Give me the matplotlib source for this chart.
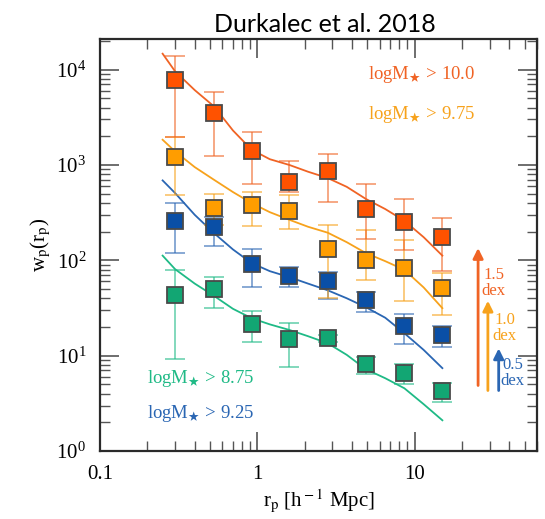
import numpy as np
import matplotlib
matplotlib.use("Agg")
import matplotlib.pyplot as plt

plt.rcParams['font.family'] = ['Liberation Serif', 'DejaVu Serif']
plt.rcParams['mathtext.fontset'] = 'stix'

# separations of the measured points [h^-1 Mpc]
rp = [0.30, 0.53, 0.92, 1.6, 2.8, 4.9, 8.6, 15.0]

wp_100 = [7850, 3510, 1410, 656, 855, 345, 252, 175]
hi_100 = [14000, 5780, 2220, 1090, 1300, 630, 439, 277]
lo_100 = [1950, 1230, 630, 525, 414, 168, 129, 78]

wp_975 = [1210, 356, 380, 333, 130, 102, 84, 51]
hi_975 = [1950, 500, 527, 490, 232, 209, 164, 73]
lo_975 = [479, 235, 230, 215, 40, 62, 37, 27]

wp_925 = [260, 223, 91, 69, 61, 38, 20.5, 16.5]
hi_925 = [399, 285, 131, 86, 76, 47, 27.4, 20.5]
lo_925 = [119, 143, 52, 52, 39, 29, 13.3, 12.4]

wp_875 = [43.7, 49.9, 21.5, 14.9, 15.2, 8.2, 6.6, 4.26]
hi_875 = [79.5, 67.6, 29.3, 21.9, 16.5, 9.6, 8.2, 5.13]
lo_875 = [9.25, 31.5, 14.0, 7.6, 14.0, 6.4, 5.05, 3.3]

# model curves
r_mod = [0.25, 0.30, 0.40, 0.53, 0.70, 0.92, 1.2, 1.6, 2.1, 2.8, 3.7, 4.9, 6.5, 8.6, 11.4, 15.0]
mod_100 = [14700, 9600, 6100, 4120, 2300, 1445, 1150, 1000, 850, 730, 590, 440, 345, 260, 175, 112]
mod_975 = [1840, 1387, 950, 700, 520, 398, 320, 266, 225, 195, 155, 119, 98, 79.5, 52, 31.5]
mod_925 = [689, 508, 300, 193, 130, 93.5, 77, 66.6, 57, 48.5, 40, 32.2, 25, 17.2, 11.5, 7.4]
mod_875 = [112, 80.8, 57, 42.4, 31, 24.7, 21.3, 18.6, 16, 13.5, 10.2, 7.2, 5.8, 4.55, 3.1, 2.1]

series = [
    (wp_875, hi_875, lo_875, mod_875, '#12a673', '#1fba86'),
    (wp_925, hi_925, lo_925, mod_925, '#0a4fa6', '#2a66b3'),
    (wp_975, hi_975, lo_975, mod_975, '#ff9d00', '#f7a21c'),
    (wp_100, hi_100, lo_100, mod_100, '#ff5200', '#f06324'),
]

fig = plt.figure(figsize=(5.45, 5.19), dpi=100)
ax = fig.add_axes([0.1835, 0.131, 0.802, 0.794])

for wp, hi, lo, mod, fc, lc in series:
    wp = np.array(wp)
    yerr = [wp - np.array(lo), np.array(hi) - wp]
    ax.plot(r_mod, mod, color=lc, lw=1.3, zorder=2)
    ax.errorbar(rp, wp, yerr=yerr, fmt='none', ecolor=lc, alpha=0.6,
                elinewidth=1.3, capsize=7, capthick=1.3, zorder=3)
    ax.plot(rp, wp, 's', ms=12, mfc=fc, mec='#4a4a4a', mew=1.3, zorder=4)

ax.set_xscale('log')
ax.set_yscale('log')
ax.set_xlim(0.1, 60)
ax.set_ylim(1, 2.1e4)
ax.set_xticks([0.1, 1, 10])
ax.set_xticklabels(['0.1', '1', '10'])
ax.tick_params(which='both', direction='in', top=True, right=True, labelsize=15,
               color='#555555')
ax.tick_params(which='major', length=14, width=1.2, pad=10)
ax.tick_params(which='minor', length=7, width=1.0)
for s in ax.spines.values():
    s.set_linewidth(1.6)
    s.set_color('#2a2a2a')

ax.set_xlabel(r'r$_{\rm p}$ [h$^{\rm -1}$ Mpc]', fontsize=15, labelpad=2)
ax.set_ylabel(r'w$_{\rm p}$(r$_{\rm p}$)', fontsize=15, labelpad=2)

fig.text(0.596, 0.938, 'Durkalec et al. 2018', family='Lato', fontsize=18,
         ha='center', va='baseline')

ax.text(0.735, 0.913, r'logM$_\bigstar$ > 10.0', transform=ax.transAxes,
        color='#f06324', fontsize=13.5, ha='center', va='center')
ax.text(0.735, 0.816, r'logM$_\bigstar$ > 9.75', transform=ax.transAxes,
        color='#f7a21c', fontsize=13.5, ha='center', va='center')
ax.text(0.231, 0.177, r'logM$_\bigstar$ > 8.75', transform=ax.transAxes,
        color='#1fba86', fontsize=13.5, ha='center', va='center')
ax.text(0.231, 0.092, r'logM$_\bigstar$ > 9.25', transform=ax.transAxes,
        color='#2a66b3', fontsize=13.5, ha='center', va='center')

# shift arrows
arrows = [(25.3, 4.55, 1.5, '#f06324', '1.5\ndex', 31.8, 58),
          (29.2, 4.03, 1.0, '#f7a21c', '1.0\ndex', 37.3, 19.5),
          (34.2, 4.03, 0.5, '#2a66b3', '0.5\ndex', 42.0, 6.6)]
for x, y0, dex, c, lab, tx, ty in arrows:
    ax.annotate('', xy=(x, y0 * 10 ** dex), xytext=(x, y0),
                arrowprops=dict(arrowstyle='-|>,head_length=0.6,head_width=0.3',
                                color=c, lw=2))
    ax.text(tx, ty, lab, color=c, fontsize=12, ha='center', va='center',
            linespacing=1.0)

fig.savefig('out.png', dpi=100)
